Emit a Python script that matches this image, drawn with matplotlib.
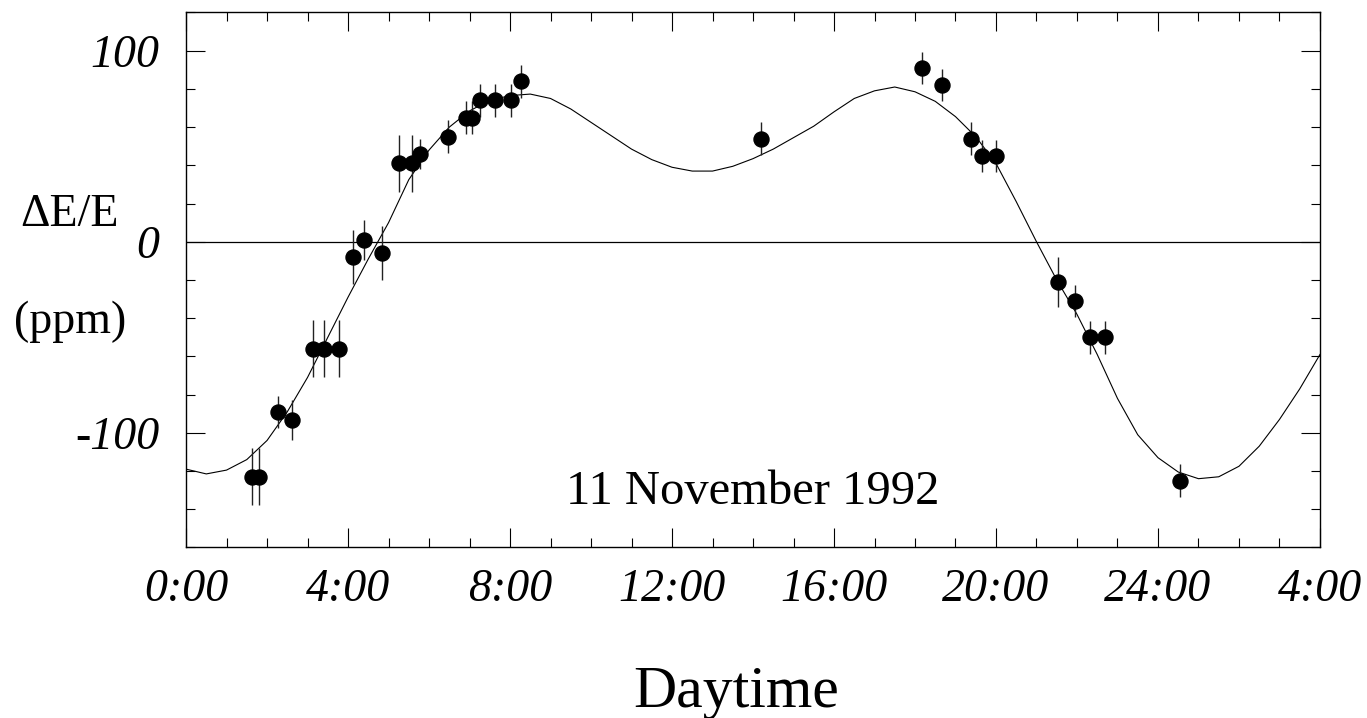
import matplotlib
matplotlib.use("Agg")
import matplotlib.pyplot as plt
from matplotlib.ticker import MultipleLocator, FixedLocator, FixedFormatter

plt.rcParams['font.family'] = ['Liberation Serif', 'DejaVu Serif']
plt.rcParams['axes.unicode_minus'] = False

# measured energy shifts (hours since midnight, ppm)
t_obs = [1.63, 1.81, 2.28, 2.61, 3.14, 3.40, 3.77, 4.13, 4.40, 4.83,
         5.25, 5.57, 5.77, 6.47, 6.91, 7.05, 7.27, 7.64, 8.03, 8.28,
         14.20, 18.18, 18.66, 19.38, 19.66, 20.00, 21.52, 21.96, 22.31,
         22.69, 24.54]
de_obs = [-123, -123, -89, -93.5, -56, -56, -56, -8, 1, -6,
          41, 41, 46, 55, 65, 65, 74, 74, 74, 84,
          54, 91, 82, 54, 45, 45, -21, -31, -50,
          -50, -125]
de_err = [15, 15, 8.5, 10.5, 15, 15, 15, 14, 10.5, 14,
          15, 15, 8, 8.5, 8.5, 8.5, 8.5, 8.5, 8.5, 8.5,
          8.5, 8.5, 8.5, 8.5, 8.5, 8.5, 13, 8.5, 8.5,
          8.5, 8.5]

# tide model prediction, every half hour
t_model = [i * 0.5 for i in range(57)]
de_model = [-119, -121.5, -119.5, -114, -104, -89, -71, -50, -29, -9,
            10, 32.5, 48, 60, 68.5, 74, 76.5, 77.3, 75, 69.5,
            62.5, 55.5, 48.5, 43, 39, 37, 37, 39.5, 43.5, 48.5,
            54.5, 60.5, 68, 75, 79, 81, 78.5, 73.5, 65.5, 55,
            41, 21, 0, -20, -38, -59, -82, -101, -113, -120.5,
            -124, -123, -117.5, -107, -93, -77, -59]

hour_labels = ['0:00', '4:00', '8:00', '12:00', '16:00', '20:00', '24:00', '4:00']

fig = plt.figure(figsize=(13.67, 7.18), dpi=100)
ax = fig.add_axes([0.1361, 0.2375, 0.8295, 0.7451])

ax.plot(t_model, de_model, color='black', lw=0.8)
ax.axhline(0, color='black', lw=0.9)
ax.errorbar(t_obs, de_obs, yerr=de_err, fmt='o', color='black',
            ms=10.8, elinewidth=1.0, capsize=0, ecolor='#222222')

ax.set_xlim(0, 28)
ax.set_ylim(-160, 120)

ax.xaxis.set_major_locator(FixedLocator([0, 4, 8, 12, 16, 20, 24, 28]))
ax.xaxis.set_major_formatter(FixedFormatter(hour_labels))
ax.xaxis.set_minor_locator(MultipleLocator(1))
ax.yaxis.set_major_locator(FixedLocator([-100, 0, 100]))
ax.yaxis.set_major_formatter(FixedFormatter(['-100', '0', '100']))
ax.yaxis.set_minor_locator(MultipleLocator(20))

ax.tick_params(which='both', direction='in', top=True, right=True, width=0.8)
ax.tick_params(which='major', length=13.5)
ax.tick_params(which='minor', length=6.5)
ax.tick_params(axis='x', which='major', pad=15)
ax.tick_params(axis='y', which='major', pad=19)
for lab in ax.get_xticklabels() + ax.get_yticklabels():
    lab.set_fontsize(33)
    lab.set_fontstyle('italic')

for s in ax.spines.values():
    s.set_linewidth(1.0)

ax.text(14.0, -137.3, '11 November 1992', fontsize=35, ha='center', va='baseline')

fig.text(70 / 1367, 1 - 215 / 718, 'ΔE/E', fontsize=33, ha='center', va='center')
fig.text(70 / 1367, 1 - 322 / 718, '(ppm)', fontsize=33, ha='center', va='center')
fig.text(736 / 1367, 1 - 707 / 718, 'Daytime', fontsize=43, ha='center', va='baseline')

fig.savefig('out.png', dpi=100)
